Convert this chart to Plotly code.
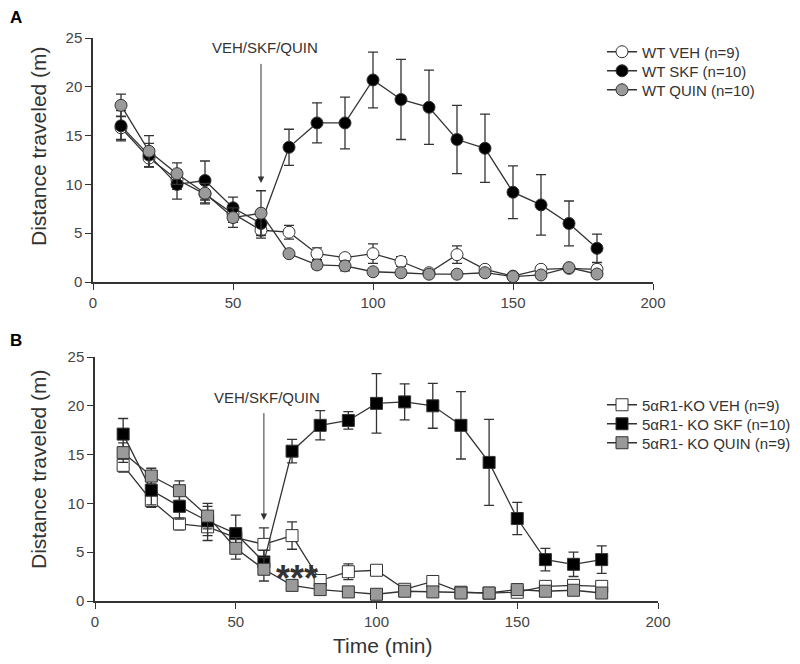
import plotly.graph_objects as go

# ---------------- data ----------------
time_min = [10, 20, 30, 40, 50, 60, 70, 80, 90, 100, 110, 120, 130, 140, 150, 160, 170, 180]

# Panel A (WT)
wt_veh = [15.8, 12.7, 10.5, 9.0, 7.0, 5.3, 5.1, 2.9, 2.5, 2.9, 2.1, 0.95, 2.8, 1.3, 0.6, 1.3, 1.4, 1.3]
wt_veh_err = [1.2, 0.9, 1.0, 1.0, 0.9, 0.8, 0.7, 0.6, 0.4, 1.0, 0.5, 0.3, 0.9, 0.3, 0.3, 0.3, 0.3, 0.4]
wt_skf = [16.0, 13.0, 10.0, 10.4, 7.6, 6.0, 13.8, 16.3, 16.3, 20.7, 18.7, 17.9, 14.6, 13.7, 9.2, 7.9, 6.0, 3.45]
wt_skf_err = [1.55, 1.2, 1.5, 2.0, 1.1, 1.2, 1.85, 2.05, 2.65, 2.85, 4.1, 3.8, 3.5, 3.5, 2.7, 3.1, 2.3, 1.45]
wt_quin = [18.1, 13.4, 11.1, 9.1, 6.6, 7.05, 2.9, 1.75, 1.65, 1.05, 0.95, 0.8, 0.8, 0.95, 0.55, 0.72, 1.47, 0.82]
wt_quin_err = [1.15, 1.6, 1.1, 1.0, 1.0, 2.3, 0.3, 0.4, 0.5, 0.3, 0.3, 0.3, 0.3, 0.3, 0.3, 0.3, 0.3, 0.3]

# Panel B (5aR1-KO)
ko_veh = [13.9, 10.3, 7.9, 7.6, 6.5, 5.8, 6.7, 2.1, 3.0, 3.15, 1.2, 2.0, 0.9, 0.8, 0.9, 1.5, 1.6, 1.5]
ko_veh_err = [0.7, 0.7, 0.6, 1.4, 1.0, 1.7, 1.4, 0.5, 0.8, 0.4, 0.3, 0.3, 0.2, 0.2, 0.3, 0.3, 0.3, 0.3]
ko_skf = [17.1, 11.35, 9.7, 8.2, 6.9, 4.0, 15.35, 18.0, 18.5, 20.25, 20.4, 20.0, 18.0, 14.2, 8.45, 4.24, 3.76, 4.24]
ko_skf_err = [1.6, 1.5, 1.3, 1.5, 1.9, 1.2, 1.2, 1.5, 0.9, 3.05, 1.85, 2.3, 3.45, 4.4, 1.65, 1.15, 1.25, 1.4]
ko_quin = [15.2, 12.8, 11.3, 8.7, 5.4, 3.25, 1.6, 1.17, 0.93, 0.69, 1.0, 0.93, 0.82, 0.82, 1.17, 1.0, 1.1, 0.82]
ko_quin_err = [1.0, 0.8, 1.0, 1.3, 1.1, 1.2, 0.3, 0.3, 0.3, 0.3, 0.3, 0.3, 0.3, 0.3, 0.3, 0.3, 0.3, 0.3]

names_a = ["WT VEH (n=9)", "WT SKF (n=10)", "WT QUIN (n=10)"]
names_b = ["5αR1-KO VEH (n=9)", "5αR1- KO SKF (n=10)", "5αR1- KO QUIN (n=9)"]
fills = ["white", "black", "#9a9a9a"]

y_ticks = [0, 5, 10, 15, 20, 25]
x_ticks = [0, 50, 100, 150, 200]

DARK = "#333333"
FONT = "Liberation Sans, Arial, sans-serif"
W, H = 800, 664
OFF = 8  # page body margin offset of the figure

fig = go.Figure()

def add_series(x, y, err, name, fill, symbol, xa, ya, legend):
    fig.add_trace(go.Scatter(
        x=x, y=y, name=name, mode="lines+markers",
        xaxis=xa, yaxis=ya, legend=legend, cliponaxis=False,
        line=dict(color=DARK, width=1.3),
        marker=dict(symbol=symbol, size=12, color=fill, line=dict(color=DARK, width=1)),
        error_y=dict(type="data", array=err, color=DARK, thickness=1.3, width=5),
    ))

legend_ids_a = ["legend", "legend2", "legend3"]
legend_ids_b = ["legend4", "legend5", "legend6"]

for y, e, n, f, lg in zip([wt_veh, wt_skf, wt_quin], [wt_veh_err, wt_skf_err, wt_quin_err],
                          names_a, fills, legend_ids_a):
    add_series(time_min, y, e, n, f, "circle", "x", "y", lg)
for y, e, n, f, lg in zip([ko_veh, ko_skf, ko_quin], [ko_veh_err, ko_skf_err, ko_quin_err],
                          names_b, fills, legend_ids_b):
    add_series(time_min, y, e, n, f, "square", "x2", "y2", lg)

def px_x(p):
    return (p - OFF) / W

def px_y(p):
    return 1 - (p - OFF) / H

axis_common = dict(
    showline=True, linecolor=DARK, linewidth=1.5, ticks="outside", ticklen=6,
    tickcolor=DARK, tickwidth=1.3, showgrid=False, zeroline=False, automargin=False,
    tickfont=dict(family=FONT, size=15, color="#444"),
)

def legend_at(y_center):
    return dict(x=px_x(602), y=px_y(y_center), xanchor="left", yanchor="middle",
                font=dict(family=FONT, size=15, color=DARK),
                bgcolor="rgba(0,0,0,0)", itemwidth=30)

layout_legends = {}
for lg, yc in zip(legend_ids_a, [52, 71, 90]):
    layout_legends[lg] = legend_at(yc)
for lg, yc in zip(legend_ids_b, [405, 424, 443]):
    layout_legends[lg] = legend_at(yc)

fig.update_layout(
    width=W, height=H, paper_bgcolor="white", plot_bgcolor="white",
    margin=dict(l=0, r=0, t=0, b=0, autoexpand=False),
    font=dict(family=FONT, color=DARK),
    xaxis=dict(domain=[px_x(93), px_x(653)], range=[0, 200], tickvals=x_ticks,
               anchor="y", **axis_common),
    yaxis=dict(domain=[px_y(282), px_y(38)], range=[0, 25], tickvals=y_ticks,
               anchor="x", **axis_common),
    xaxis2=dict(domain=[px_x(95), px_x(658)], range=[0, 200], tickvals=x_ticks,
                anchor="y2", **axis_common),
    yaxis2=dict(domain=[px_y(601), px_y(357)], range=[0, 25], tickvals=y_ticks,
                anchor="x2", **axis_common),
    showlegend=True,
    **layout_legends,
)

title_font = dict(family=FONT, size=21, color=DARK)
paper_ann = dict(xref="paper", yref="paper", showarrow=False,
                 xanchor="center", yanchor="middle")
annotations = [
    dict(text="<b>A</b>", x=px_x(8), y=px_y(18), xref="paper", yref="paper",
         showarrow=False, xanchor="left", yanchor="middle",
         font=dict(family=FONT, size=17, color="black")),
    dict(text="<b>B</b>", x=px_x(8), y=px_y(340), xref="paper", yref="paper",
         showarrow=False, xanchor="left", yanchor="middle",
         font=dict(family=FONT, size=17, color="black")),
    dict(text="Distance traveled (m)", x=px_x(38), y=px_y(146), textangle=-90,
         font=title_font, **paper_ann),
    dict(text="Distance traveled (m)", x=px_x(38), y=px_y(469), textangle=-90,
         font=title_font, **paper_ann),
    dict(text="Time (min)", x=px_x(383), y=px_y(645), font=title_font, **paper_ann),
    dict(text="VEH/SKF/QUIN", x=61.4, y=24.0, xref="x", yref="y", showarrow=False,
         font=dict(family=FONT, size=15, color=DARK)),
    dict(text="VEH/SKF/QUIN", x=61.1, y=20.9, xref="x2", yref="y2", showarrow=False,
         font=dict(family=FONT, size=15, color=DARK)),
    dict(text="", x=60, y=10.15, ax=60, ay=22.5, xref="x", yref="y", axref="x", ayref="y",
         showarrow=True, arrowhead=2, arrowsize=1.3, arrowwidth=1, arrowcolor=DARK),
    dict(text="", x=60, y=8.3, ax=60, ay=19.4, xref="x2", yref="y2", axref="x2", ayref="y2",
         showarrow=True, arrowhead=2, arrowsize=1.3, arrowwidth=1, arrowcolor=DARK),
    dict(text="<b>***</b>", x=71.6, y=2.3, xref="x2", yref="y2", showarrow=False,
         font=dict(family=FONT, size=36, color=DARK)),
]
fig.update_layout(annotations=annotations)

fig.write_html("out.html")
